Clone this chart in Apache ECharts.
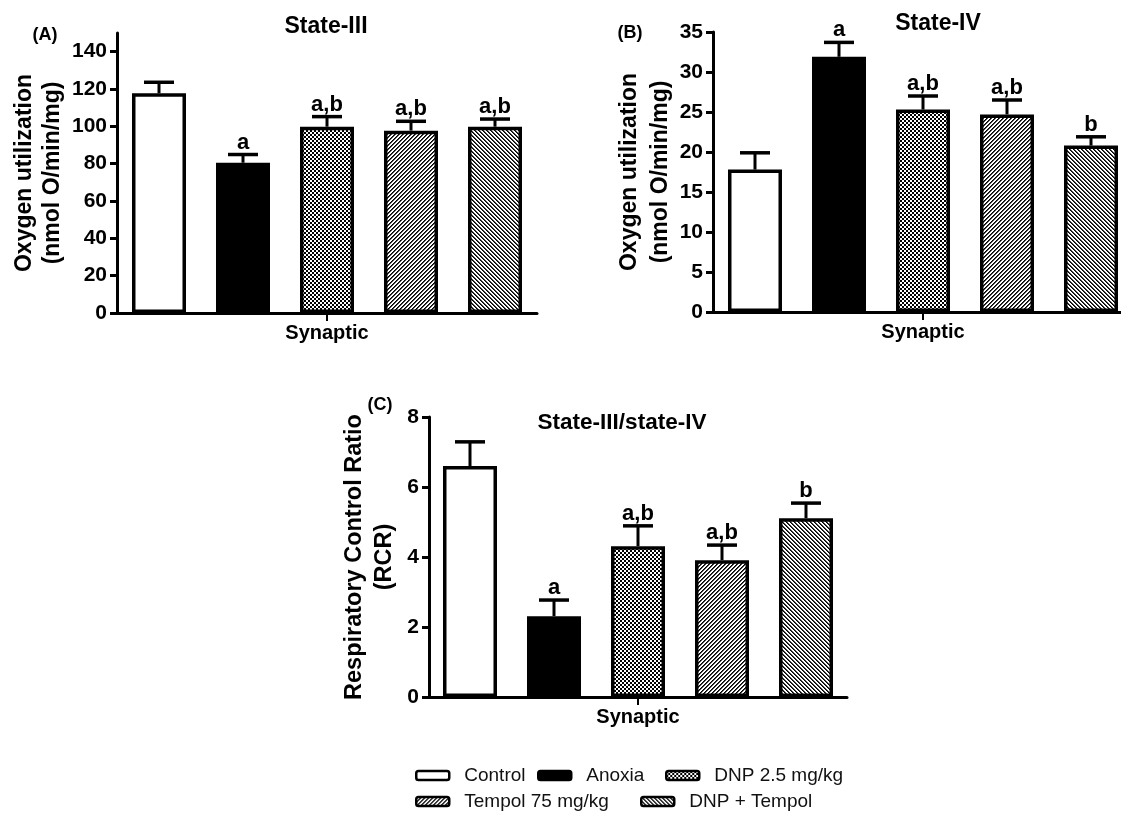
<!DOCTYPE html>
<html>
<head>
<meta charset="utf-8">
<script src="https://cdn.jsdelivr.net/npm/echarts@6.0.0/dist/echarts.min.js"></script>
<style>
  html, body { margin: 0; background: #fff; }
  #main { width: 1121px; height: 813px; }
</style>
</head>
<body>
<div id="main"></div>
<script>
// groups and the single x category
const groups = ['Control', 'Anoxia', 'DNP 2.5 mg/kg', 'Tempol 75 mg/kg', 'DNP + Tempol']
const category = ['Synaptic']

// (A) State-III
const state3Mean = [117.7, 80.5, 99.8, 97.7, 99.8]
const state3Sem = [5.9, 4.4, 5.4, 5.0, 4.1]
const state3Sig = ['', 'a', 'a,b', 'a,b', 'a,b']
const state3Ticks = [0, 20, 40, 60, 80, 100, 120, 140]

// (B) State-IV
const state4Mean = [17.8, 31.9, 25.3, 24.7, 20.8]
const state4Sem = [2.1, 1.8, 1.7, 1.8, 1.1]
const state4Sig = ['', 'a', 'a,b', 'a,b', 'b']
const state4Ticks = [0, 5, 10, 15, 20, 25, 30, 35]

// (C) RCR
const rcrMean = [6.6, 2.31, 4.31, 3.91, 5.11]
const rcrSem = [0.69, 0.46, 0.58, 0.43, 0.43]
const rcrSig = ['', 'a', 'a,b', 'a,b', 'b']
const rcrTicks = [0, 2, 4, 6, 8]

const FONT = '"Liberation Sans", Arial, sans-serif'
const BAR_W = 54
const PITCH = 84
const CAP = 15

function pattern(test, n, grey) {
  const c = document.createElement('canvas')
  c.width = n
  c.height = n
  const ctx = c.getContext('2d')
  ctx.fillStyle = '#fff'
  ctx.fillRect(0, 0, n, n)
  for (let x = 0; x < n; x++) {
    for (let y = 0; y < n; y++) {
      const t = test(x, y)
      if (t === 1) { ctx.fillStyle = '#000'; ctx.fillRect(x, y, 1, 1) }
      if (t === 2) { ctx.fillStyle = grey; ctx.fillRect(x, y, 1, 1) }
    }
  }
  return { image: c, repeat: 'repeat' }
}

const fills = [
  '#fff',
  '#000',
  pattern((x, y) => ((Math.floor(x / 2) + Math.floor(y / 2)) % 2 === 0 ? 1 : 0), 4),
  pattern((x, y) => { const k = (x + y) % 4; return k === 0 ? 1 : (k === 1 ? 2 : 0) }, 4, '#444'),
  pattern((x, y) => { const k = ((x - y) % 4 + 4) % 4; return k === 0 ? 1 : (k === 1 ? 2 : 0) }, 4, '#444')
]

const chart = echarts.init(document.getElementById('main'), null, { renderer: 'canvas' })

function xAxisOf(idx) {
  return {
    gridIndex: idx,
    type: 'category',
    data: category,
    axisLine: { show: true, lineStyle: { color: '#000', width: 3 } },
    axisTick: { show: true, alignWithLabel: true, length: 8, lineStyle: { color: '#000', width: 2 } },
    axisLabel: { color: '#000', fontSize: 20, fontWeight: 'bold', fontFamily: FONT, margin: 10 }
  }
}

function yAxisOf(idx, max, ticks, name, gap, lh, fs) {
  return {
    gridIndex: idx,
    type: 'value',
    min: 0,
    max: max,
    interval: ticks[1] - ticks[0],
    name: name,
    nameLocation: 'middle',
    nameRotate: 90,
    nameGap: gap,
    nameTextStyle: { color: '#000', fontSize: fs, fontWeight: 'bold', fontFamily: FONT, lineHeight: lh },
    axisLine: { show: true, lineStyle: { color: '#000', width: 3 } },
    axisTick: { show: true, length: 7, customValues: ticks, lineStyle: { color: '#000', width: 3 } },
    axisLabel: { customValues: ticks, color: '#000', fontSize: 21, fontWeight: 'bold', fontFamily: FONT, margin: 10 },
    splitLine: { show: false }
  }
}

function barsOf(idx, mean) {
  return groups.map((g, i) => ({
    name: g,
    type: 'bar',
    xAxisIndex: idx,
    yAxisIndex: idx,
    barWidth: BAR_W,
    barGap: ((PITCH - BAR_W) / BAR_W * 100).toFixed(2) + '%',
    itemStyle: { color: fills[i], borderColor: '#000', borderWidth: 3.5 },
    emphasis: { disabled: true },
    data: [mean[i]]
  }))
}

function errorsOf(idx, mean, sem, sig) {
  return {
    type: 'custom',
    xAxisIndex: idx,
    yAxisIndex: idx,
    z: 5,
    silent: true,
    encode: { x: 0, y: [1, 2] },
    data: mean.map((m, g) => [0, m + sem[g], m, g]),
    renderItem: (params, api) => {
      const g = api.value(3)
      const top = api.coord([api.value(0), api.value(1)])
      const base = api.coord([api.value(0), api.value(2)])
      const x = top[0] + (g - 2) * PITCH
      return {
        type: 'group',
        children: [
          { type: 'line', shape: { x1: x, y1: base[1], x2: x, y2: top[1] }, style: { stroke: '#000', lineWidth: 3 } },
          { type: 'line', shape: { x1: x - CAP, y1: top[1], x2: x + CAP, y2: top[1] }, style: { stroke: '#000', lineWidth: 3.5 } },
          {
            type: 'text',
            x: x,
            y: top[1] - 1,
            style: { text: sig[g], fill: '#000', fontSize: 22, fontWeight: 'bold', fontFamily: FONT, align: 'center', verticalAlign: 'bottom' }
          }
        ]
      }
    }
  }
}

function label(text, x, y, size, align) {
  return {
    type: 'text',
    x: x,
    y: y,
    style: { text: text, fill: '#000', fontSize: size, fontWeight: 'bold', fontFamily: FONT, align: align || 'center', verticalAlign: 'middle' }
  }
}

const legendSpots = [[415, 766], [537, 766], [665, 766], [415, 792], [640, 792]]

const option = {
  animation: false,
  backgroundColor: '#fff',
  grid: [
    { left: 117, top: 33, width: 420, height: 280, containLabel: false, outerBoundsMode: 'none' },
    { left: 713, top: 32, width: 420, height: 280, containLabel: false, outerBoundsMode: 'none' },
    { left: 429, top: 417, width: 418, height: 280, containLabel: false, outerBoundsMode: 'none' }
  ],
  xAxis: [xAxisOf(0), xAxisOf(1), xAxisOf(2)],
  yAxis: [
    yAxisOf(0, 150, state3Ticks, 'Oxygen utilization\n(nmol O/min/mg)', 50, 28, 23),
    yAxisOf(1, 35, state4Ticks, 'Oxygen utilization\n(nmol O/min/mg)', 35, 31, 23),
    yAxisOf(2, 8, rcrTicks, 'Respiratory Control Ratio\n(RCR)', 29, 30, 23.5)
  ],
  legend: groups.map((g, i) => ({
    data: [g],
    left: legendSpots[i][0],
    top: legendSpots[i][1],
    padding: 0,
    icon: 'roundRect',
    itemWidth: 33,
    itemHeight: 9,
    itemStyle: { borderColor: '#000', borderWidth: 2.5 },
    textStyle: { color: '#111', fontSize: 19, fontFamily: FONT, padding: [0, 0, 0, 10] }
  })),
  graphic: [
    label('(A)', 45, 35, 18),
    label('(B)', 630, 33, 18),
    label('(C)', 380, 405, 18),
    label('State-III', 326, 27, 23),
    label('State-IV', 938, 24, 23),
    label('State-III/state-IV', 622, 423, 22.5)
  ],
  series: [
    ...barsOf(0, state3Mean),
    ...barsOf(1, state4Mean),
    ...barsOf(2, rcrMean),
    errorsOf(0, state3Mean, state3Sem, state3Sig),
    errorsOf(1, state4Mean, state4Sem, state4Sig),
    errorsOf(2, rcrMean, rcrSem, rcrSig)
  ]
}

chart.setOption(option)
</script>
</body>
</html>
